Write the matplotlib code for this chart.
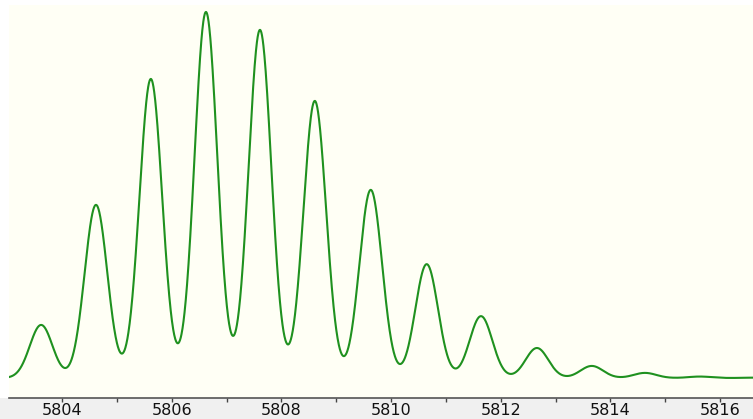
import numpy as np
import matplotlib
matplotlib.use('Agg')
import matplotlib.pyplot as plt
from matplotlib.patches import Rectangle

# isotope peaks (mass, relative intensity %)
peak_mass = [5803.62, 5804.62, 5805.62, 5806.625, 5807.61, 5808.61, 5809.63,
             5810.65, 5811.64, 5812.66, 5813.66, 5814.63, 5815.63, 5816.63]
peak_int = [14.5, 47.3, 81.7, 100.0, 95.1, 75.7, 51.4,
            31.1, 16.9, 8.2, 3.3, 1.4, 0.4, 0.1]
peak_sigma = 0.207  # instrument peak width

tick_major = [5804, 5806, 5808, 5810, 5812, 5814, 5816]
tick_minor = [5805, 5807, 5809, 5811, 5813, 5815]

# profile spectrum from the peak list
mz = np.linspace(5803.0, 5816.7, 3000)
profile = np.zeros_like(mz)
for m, a in zip(peak_mass, peak_int):
    profile += a * np.exp(-(mz - m) ** 2 / (2 * peak_sigma ** 2))

fig = plt.figure(figsize=(7.53, 4.19), dpi=100)
fig.patch.set_facecolor('white')
# grey strip under the axis
fig.patches.append(Rectangle((0, 0), 1, 21 / 419, transform=fig.transFigure,
                             facecolor='#f0f0f0', edgecolor='none', zorder=-5))

ax = fig.add_axes([9 / 753, 21 / 419, 1 - 9 / 753, 393 / 419])
ax.set_facecolor('#fffff5')
ax.plot(mz, profile, color='#1f911f', lw=1.5)

ax.set_xlim(5803.034, 5816.60)
ax.set_ylim(-5.46, 101.9)

for s in ['top', 'left', 'right']:
    ax.spines[s].set_visible(False)
ax.spines['bottom'].set_color('#555555')
ax.spines['bottom'].set_linewidth(1.2)

ax.set_yticks([])
ax.set_xticks(tick_major)
ax.set_xticks(tick_minor, minor=True)
ax.tick_params(axis='x', which='both', direction='out', length=3, width=1,
               color='#444444', labelsize=11.5, pad=0.5)
ax.set_xticklabels([str(t) for t in tick_major], family='DejaVu Sans',
                   color='#111111')

fig.savefig('out.png', dpi=100, facecolor=fig.get_facecolor())
